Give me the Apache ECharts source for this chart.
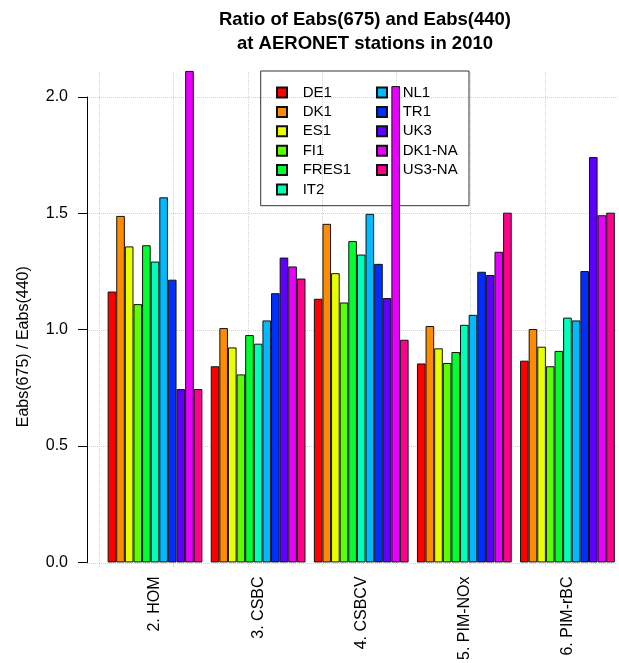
<!DOCTYPE html>
<html>
<head>
<meta charset="utf-8">
<script src="https://cdn.jsdelivr.net/npm/echarts@6/dist/echarts.min.js"></script>
<style>
html,body{margin:0;padding:0;background:#fff;}
#main{width:619px;height:663px;}
</style>
</head>
<body>
<div id="main"></div>
<script>
// 模拟方案（x轴分组）
var categories = ['2. HOM', '3. CSBC', '4. CSBCV', '5. PIM-NOx', '6. PIM-rBC'];
// 站点
var stations = ['DE1', 'DK1', 'ES1', 'FI1', 'FRES1', 'IT2', 'NL1', 'TR1', 'UK3', 'DK1-NA', 'US3-NA'];
// R rainbow(11)
var stationColors = ['#FF0000', '#FF8B00', '#E8FF00', '#5DFF00', '#00FF2E', '#00FFB9',
                     '#00B9FF', '#002EFF', '#5D00FF', '#E800FF', '#FF008B'];

// 每个站点在各方案下的比值
var valsDE1   = [1.164, 0.843, 1.133, 0.855, 0.867];
var valsDK1   = [1.489, 1.007, 1.455, 1.016, 1.003];
var valsES1   = [1.358, 0.924, 1.243, 0.920, 0.927];
var valsFI1   = [1.110, 0.808, 1.117, 0.857, 0.843];
var valsFRES1 = [1.363, 0.977, 1.381, 0.904, 0.909];
var valsIT2   = [1.293, 0.940, 1.323, 1.021, 1.052];
var valsNL1   = [1.569, 1.040, 1.498, 1.064, 1.040];
var valsTR1   = [1.215, 1.157, 1.283, 1.249, 1.252];
var valsUK3   = [0.745, 1.310, 1.136, 1.235, 1.742];
var valsDK1NA = [2.112, 1.272, 2.047, 1.335, 1.492];
var valsUS3NA = [0.745, 1.220, 0.957, 1.503, 1.503];

var yTicks = [0, 0.5, 1.0, 1.5, 2.0];

var allVals = [valsDE1, valsDK1, valsES1, valsFI1, valsFRES1, valsIT2,
               valsNL1, valsTR1, valsUK3, valsDK1NA, valsUS3NA];

var FONT = "'Liberation Sans', Arial, Helvetica, sans-serif";
var gridLine = {show: true, lineStyle: {color: '#d3d3d3', type: 'dotted', width: 1}};

var series = [];
for (var i = 0; i < stations.length; i++) {
	series.push({
		name: stations[i],
		type: 'bar',
		xAxisIndex: 1,
		yAxisIndex: 1,
		data: allVals[i],
		clip: false,
		barGap: '0%',
		barCategoryGap: '8.1%',
		itemStyle: {color: stationColors[i], borderColor: '#111', borderWidth: 1},
		emphasis: {disabled: true}
	});
}

//图例公共样式
function legendCol(names, left){
	return {
		data: names,
		orient: 'vertical',
		left: left,
		top: 85,
		padding: 0,
		itemGap: 4.4,
		itemWidth: 10,
		itemHeight: 10,
		icon: 'rect',
		z: 1,
		selectedMode: false,
		textStyle: {fontFamily: FONT, fontSize: 15, color: '#000', padding: [0, 0, 0, 10.7]}
	};
}

var myChart = echarts.init(document.getElementById('main'), null, {renderer: 'canvas'});
var option = {
	animation: false,
	backgroundColor: '#fff',
	textStyle: {fontFamily: FONT},
	title: {
		text: 'Ratio of Eabs(675) and Eabs(440)\nat AERONET stations in 2010',
		left: 365,
		top: 8,
		padding: 0,
		textAlign: 'center',
		textStyle: {fontFamily: FONT, fontSize: 18.5, fontWeight: 'bold', color: '#000', lineHeight: 24}
	},
	legend: [
		legendCol(stations.slice(0, 6), 276),
		legendCol(stations.slice(6), 376)
	],
	// 图例外框
	graphic: [{
		type: 'rect',
		z: 1,
		shape: {x: 260.7, y: 71, width: 208.3, height: 134.7},
		style: {fill: null, stroke: '#333', lineWidth: 1}
	}],
	grid: [
		// 竖向网格线
		{left: 99.3, width: 610.4, top: 72, bottom: 95},
		// 柱状图
		{left: 103.45, width: 522.5, top: 97, bottom: 100},
		// 横向网格线
		{left: 87, width: 600, top: 97, bottom: 100}
	],
	xAxis: [
		{gridIndex: 0, type: 'value', min: 0, max: 7, interval: 1,
		 axisLine: {show: false}, axisTick: {show: false}, axisLabel: {show: false}, splitLine: gridLine},
		{gridIndex: 1, type: 'category', data: categories,
		 axisLine: {show: false}, axisTick: {show: false}, splitLine: {show: false},
		 axisLabel: {rotate: 90, margin: 14, fontFamily: FONT, fontSize: 16, color: '#000', interval: 0}},
		{gridIndex: 2, type: 'value', min: 0, max: 1,
		 axisLine: {show: false}, axisTick: {show: false}, axisLabel: {show: false}, splitLine: {show: false}}
	],
	yAxis: [
		{gridIndex: 0, type: 'value', min: 0, max: 1, show: false},
		{gridIndex: 1, type: 'value', min: yTicks[0], max: yTicks[yTicks.length - 1], interval: 0.5,
		 offset: 16.45,
		 name: 'Eabs(675) / Eabs(440)',
		 nameLocation: 'middle',
		 nameRotate: 90,
		 nameGap: 55,
		 nameTextStyle: {fontFamily: FONT, fontSize: 16, color: '#000', padding: [0, 34, 0, 0]},
		 axisLine: {show: true, lineStyle: {color: '#000', width: 1}},
		 axisTick: {show: true, length: 9, lineStyle: {color: '#000'}},
		 axisLabel: {margin: 19, fontFamily: FONT, fontSize: 16, color: '#000',
		             formatter: function(v){ return v.toFixed(1); }},
		 splitLine: {show: false}},
		{gridIndex: 2, type: 'value', min: yTicks[0], max: yTicks[yTicks.length - 1], interval: 0.5,
		 axisLine: {show: false}, axisTick: {show: false}, axisLabel: {show: false}, splitLine: gridLine}
	],
	series: series
};
myChart.setOption(option);
</script>
</body>
</html>
